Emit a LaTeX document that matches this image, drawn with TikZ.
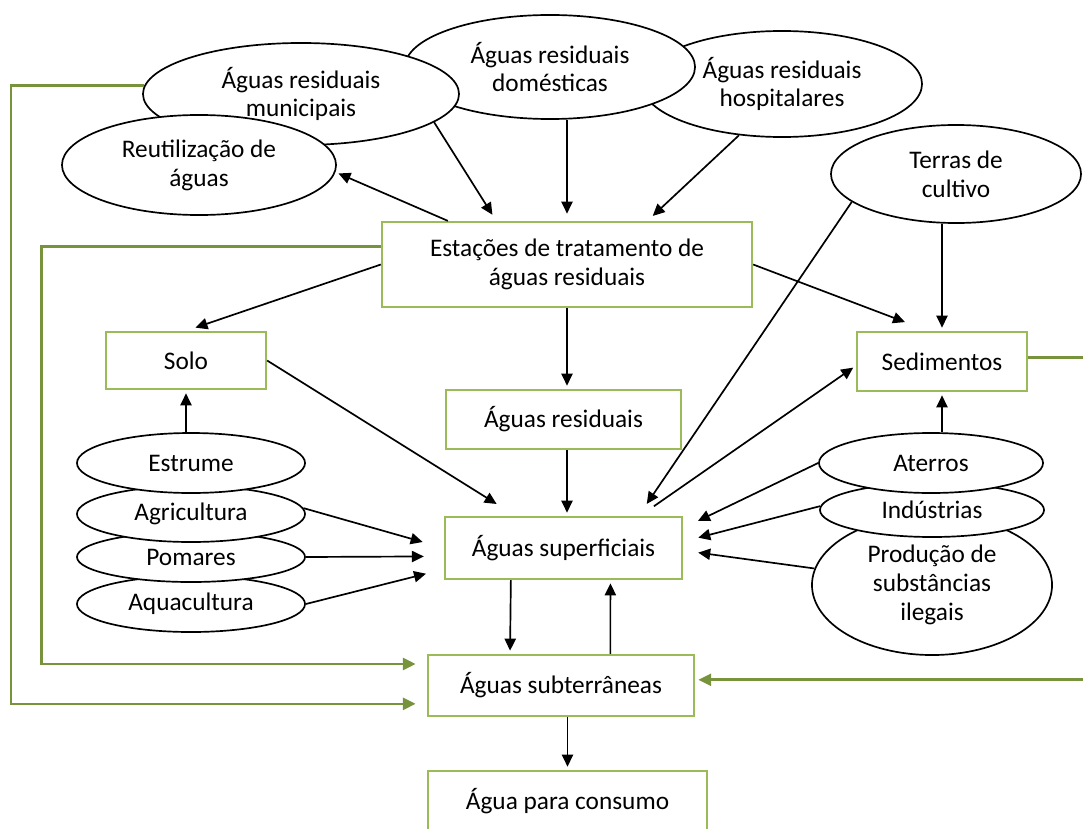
\documentclass[tikz,border=0pt]{standalone}
\usepackage{fontspec}
\setmainfont{Carlito}
\usetikzlibrary{arrows.meta,shapes.geometric,calc}
\definecolor{boxgreen}{HTML}{9BBB59}
\definecolor{linkgreen}{HTML}{77933C}

\begin{document}
\begin{tikzpicture}[x=0.025cm, y=-0.025cm, font=\fontsize{18}{20.5}\selectfont,
	oval/.style = {ellipse, draw, fill=white, line width=1.2pt, inner sep=0pt, align=center},
	box/.style = {rectangle, draw=boxgreen, fill=white, line width=1.6pt, inner sep=0pt, align=center},
	arr/.style = {-{Triangle[length=3mm,width=2.8mm]}, line width=1.2pt, shorten >=0.08cm},
	link/.style = {-{Triangle[length=3.2mm,width=3mm]}, color=linkgreen, line width=1.9pt}]
	\path[use as bounding box, clip] (0,0) rectangle (1083,828);
	\node[oval, minimum width=7cm, minimum height=2.65cm] (hos) at (782,84) {Águas residuais\\hospitalares};
	\node[oval, minimum width=7.25cm, minimum height=2.6cm] (dom) at (550,67) {Águas residuais\\domésticas};
	\node[oval, minimum width=7.9cm, minimum height=2.55cm] (mun) at (301,94) {Águas residuais\\municipais};
	\node[oval, minimum width=6.85cm, minimum height=2.5cm] (reu) at (199,165) {Reutilização de\\águas};
	\node[oval, minimum width=6.25cm, minimum height=2.45cm] (ter) at (956,174) {Terras de\\cultivo};
	\node[box, minimum width=9.25cm, minimum height=2.125cm] (est) at (567,264.5) {Estações de tratamento de\\águas residuais};
	\node[box, minimum width=4cm, minimum height=1.425cm] (solo) at (186,360.5) {Solo};
	\node[box, minimum width=5.875cm, minimum height=1.475cm] (res) at (563.5,419.5) {Águas residuais};
	\node[box, minimum width=4.25cm, minimum height=1.475cm] (sed) at (942,361.5) {Sedimentos};
	\node[box, minimum width=5.925cm, minimum height=1.55cm] (sup) at (563.5,548) {Águas superficiais};
	\node[box, minimum width=6.65cm, minimum height=1.525cm] (sub) at (561,685.5) {Águas subterrâneas};
	\node[box, minimum width=6.975cm, minimum height=1.525cm] (con) at (567.5,801.5) {Água para consumo};
	\node[oval, minimum width=5.7cm, minimum height=1.4cm] (aqu) at (191,604) {Aquacultura};
	\node[oval, minimum width=5.7cm, minimum height=1.25cm] (pom) at (191,557) {Pomares};
	\node[oval, minimum width=5.7cm, minimum height=1.4cm] (agr) at (191,514) {Agricultura};
	\node[oval, minimum width=5.7cm, minimum height=1.5cm] (esm) at (191,463) {Estrume};
	\node[oval, minimum width=6cm, minimum height=3.5cm] (pro) at (932,585) {Produção de\\substâncias\\ilegais};
	\node[oval, minimum width=5.6cm, minimum height=1.35cm] (ind) at (932,510) {Indústrias};
	\node[oval, minimum width=5.6cm, minimum height=1.5cm] (ate) at (931,463) {Aterros};
	\draw[arr, shorten >=0.18cm] (mun.-12) -- ($(est.north west)!0.31!(est.north east)$);
	\draw[arr, shorten >=0.18cm] (est.north |- dom.south) -- (est.north);
	\draw[arr, shorten >=0.18cm] (hos.-130) -- ($(est.north west)!0.716!(est.north east)$);
	\draw[arr] ($(est.north west)!0.18!(est.north east)$) -- (reu.-3);
	\draw[arr, shorten >=0.25cm] (est.west) -- (solo.north);
	\draw[arr, shorten >=0.62cm] (est.east) -- ($(sed.north west)!0.42!(sed.north east)$);
	\draw[arr] (est.south) -- (est.south |- res.north);
	\draw[arr] (est.south |- res.south) -- (est.south |- sup.north);
	\draw[arr] (sed.north |- ter.south) -- (sed.north);
	\draw[arr, shorten >=0.36cm] (ter.-165) -- ($(sup.north west)!0.814!(sup.north east)$);
	\draw[arr, shorten >=0.56cm] (solo.east) -- ($(sup.north west)!0.30!(sup.north east)$);
	\draw[arr] (solo.south |- esm.north) -- (solo.south);
	\draw[arr, shorten >=0.55cm] (agr.3) -- (sup.west);
	\draw[arr, shorten >=0.5cm] (pom.east) -- ($(sup.north west)!0.63!(sup.south west)$);
	\draw[arr, shorten >=0.46cm] (aqu.east) -- ($(sup.north west)!0.83!(sup.south west)$);
	\draw[arr] ($(sup.south west)!0.28!(sup.south east)$) -- ($(sub.north west)!0.31!(sub.north east)$);
	\draw[arr] ($(sub.north west)!0.684!(sub.north east)$) -- ($(sup.south west)!0.696!(sup.south east)$);
	\draw[arr] (con.north |- sub.south) -- (con.north);
	\draw[arr, shorten <=0.42cm] ($(sup.north west)!0.82!(sup.north east)$) -- ($(sed.north west)!0.57!(sed.south west)$);
	\draw[arr] (sed.south |- ate.north) -- (sed.south);
	\draw[arr, shorten >=0.41cm] (ate.west) -- ($(sup.north east)!0.19!(sup.south east)$);
	\draw[arr, shorten >=0.39cm] (ind.178) -- ($(sup.north east)!0.40!(sup.south east)$);
	\draw[arr, shorten >=0.38cm] (pro.172) -- ($(sup.north east)!0.54!(sup.south east)$);
	\draw[link, shorten >=0.28cm] (mun.177) -- ++(-133,0) |- ($(sub.north west)!0.79!(sub.south west)$);
	\draw[link, shorten >=0.28cm] ($(est.north west)!0.29!(est.south west)$) -- ++(-339,0) |- ($(sub.north west)!0.16!(sub.south west)$);
	\draw[link, shorten >=0.08cm] ($(sed.north east)!0.44!(sed.south east)$) -- ++(75,0) |- ($(sub.north east)!0.41!(sub.south east)$);
\end{tikzpicture}
\end{document}
